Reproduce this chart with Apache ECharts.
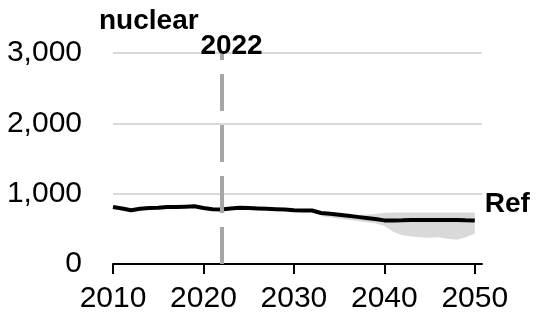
<!doctype html>
<html>
    <head>
        <meta charset="utf-8">
        <title>nuclear</title>
        <style>
            html, body { margin: 0; padding: 0; background: #fff; }
            #main { width: 538px; height: 317px; }
        </style>
    </head>
    <body>
        <div id="main"></div>
        <script src="https://cdn.jsdelivr.net/npm/echarts@6/dist/echarts.min.js"></script>
        <script>
            // Ref case, 2010-2050
            var years = [2010, 2011, 2012, 2013, 2014, 2015, 2016, 2017, 2018, 2019,
                         2020, 2021, 2022, 2023, 2024, 2025, 2026, 2027, 2028, 2029,
                         2030, 2031, 2032, 2033, 2034, 2035, 2036, 2037, 2038, 2039,
                         2040, 2041, 2042, 2043, 2044, 2045, 2046, 2047, 2048, 2049, 2050];
            var refValues = [810, 790, 765, 785, 795, 800, 810, 810, 815, 820,
                             795, 780, 775, 790, 800, 795, 790, 785, 780, 775,
                             765, 760, 760, 725, 715, 700, 685, 670, 655, 640,
                             620, 620, 622, 625, 625, 625, 625, 625, 625, 622, 620];

            // range of side cases (shaded), 2033-2050
            var rangeYears = [2033, 2034, 2035, 2036, 2037, 2038, 2039, 2040, 2041,
                              2042, 2043, 2044, 2045, 2046, 2047, 2048, 2049, 2050];
            var rangeLow = [680, 665, 645, 630, 610, 595, 580, 540, 460,
                            410, 390, 380, 375, 380, 360, 345, 380, 430];
            var rangeHigh = [735, 725, 715, 705, 700, 700, 710, 730, 733,
                             733, 733, 733, 733, 733, 733, 733, 733, 733];

            var xTicks = [2010, 2020, 2030, 2040, 2050];
            var yTicks = [0, 1000, 2000, 3000];
            var lastHistYear = 2022;

            var chart = echarts.init(document.getElementById('main'));

            var font = 'Liberation Sans, Arial, sans-serif';

            function pairs(xs, ys) {
                return xs.map(function (x, i) { return [x, ys[i]]; });
            }

            // band between low and high, drawn as one polygon through the axes
            function renderBand(params, api) {
                var pts = [];
                for (var i = 0; i < rangeYears.length; i++) {
                    pts.push(api.coord([rangeYears[i], rangeHigh[i]]));
                }
                for (var j = rangeYears.length - 1; j >= 0; j--) {
                    pts.push(api.coord([rangeYears[j], rangeLow[j]]));
                }
                return {
                    type: 'polygon',
                    shape: { points: pts },
                    style: { fill: '#d9d9d9' }
                };
            }

            chart.setOption({
                animation: false,
                backgroundColor: '#ffffff',
                title: {
                    text: 'nuclear',
                    left: 94,
                    top: 2,
                    textStyle: { fontFamily: font, fontSize: 28, fontWeight: 'bold', color: '#000' }
                },
                grid: { left: 113, right: 56, top: 53, bottom: 53 },
                xAxis: {
                    type: 'value',
                    min: 2010,
                    max: 2050.8,
                    axisLine: { show: true, lineStyle: { color: '#000', width: 2 } },
                    axisTick: {
                        show: true, length: 10, customValues: xTicks,
                        lineStyle: { color: '#000', width: 2 }
                    },
                    axisLabel: {
                        color: '#000', fontFamily: font, fontSize: 30, margin: 20,
                        customValues: xTicks,
                        formatter: function (v) { return String(v); }
                    },
                    splitLine: { show: false }
                },
                yAxis: {
                    type: 'value',
                    min: yTicks[0],
                    max: yTicks[yTicks.length - 1],
                    interval: 1000,
                    axisLine: { show: false },
                    axisTick: { show: false },
                    axisLabel: {
                        color: '#000', fontFamily: font, fontSize: 30, margin: 31,
                        formatter: function (v) { return v.toLocaleString('en-US'); }
                    },
                    splitLine: {
                        show: true,
                        lineStyle: { color: '#d9d9d9', width: 2 },
                        showMinLine: false
                    }
                },
                series: [
                    {
                        name: 'range',
                        type: 'custom',
                        renderItem: renderBand,
                        data: [[rangeYears[0], rangeLow[0]]],
                        silent: true,
                        z: 1
                    },
                    {
                        name: 'Ref',
                        type: 'line',
                        symbol: 'none',
                        lineStyle: { color: '#000', width: 4 },
                        data: pairs(years, refValues),
                        endLabel: {
                            show: true,
                            formatter: 'Ref',
                            color: '#000',
                            fontFamily: font,
                            fontSize: 28,
                            fontWeight: 'bold',
                            distance: 10,
                            offset: [0, -16]
                        },
                        markLine: {
                            silent: true,
                            symbol: 'none',
                            label: {
                                show: true,
                                position: 'end',
                                formatter: String(lastHistYear),
                                color: '#000',
                                fontFamily: font,
                                fontSize: 28,
                                fontWeight: 'bold',
                                distance: -7,
                                offset: [10, 0]
                            },
                            lineStyle: { color: '#a6a6a6', width: 4, type: [37, 14] },
                            data: [{ xAxis: lastHistYear }]
                        },
                        z: 3
                    }
                ]
            });
        </script>
    </body>
</html>
